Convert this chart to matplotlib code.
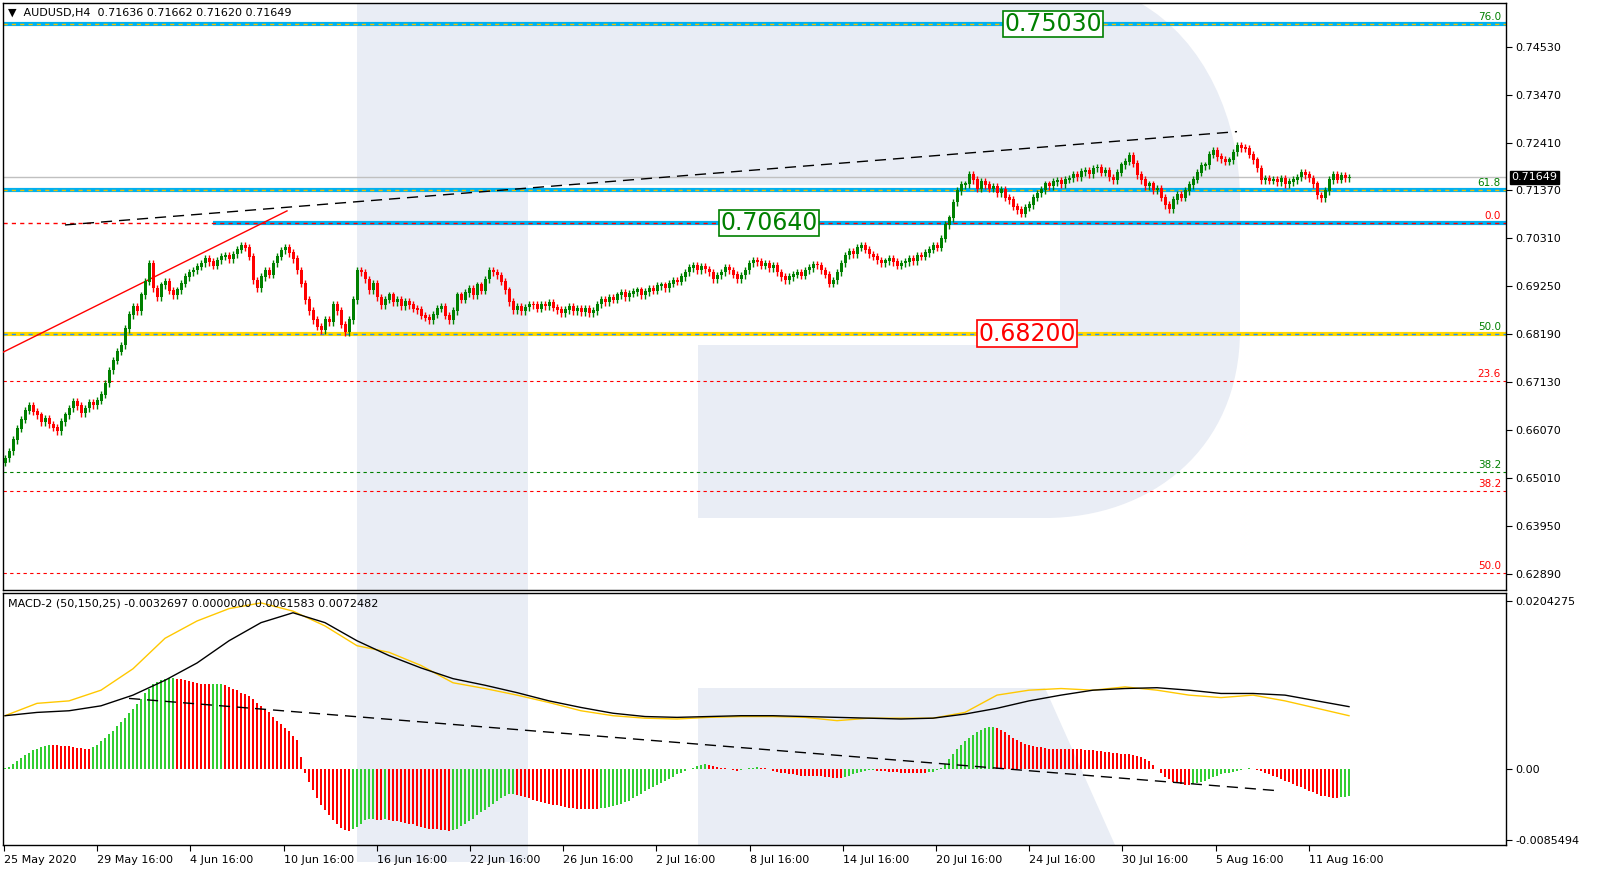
import matplotlib
matplotlib.use('Agg')
import matplotlib.pyplot as plt
import numpy as np
from matplotlib.patches import Polygon, PathPatch, Rectangle
from matplotlib.path import Path

plt.rcParams['font.family'] = ['DejaVu Sans']

# ---- data: H4 closes, AUDUSD 25 May - 13 Aug 2020 -------------------------
CLOSES = [
    0.6545, 0.6560, 0.6585, 0.6610, 0.6630, 0.6650, 0.6662, 0.6648, 0.6640, 0.6625, 0.6632, 0.6620,
    0.6612, 0.6605, 0.6625, 0.6640, 0.6655, 0.6670, 0.6660, 0.6645, 0.6655, 0.6668, 0.6662, 0.6672,
    0.6685, 0.6710, 0.6739, 0.6760, 0.6780, 0.6794, 0.6830, 0.6861, 0.6880, 0.6870, 0.6905, 0.6935,
    0.6975, 0.6920, 0.6900, 0.6927, 0.6935, 0.6915, 0.6905, 0.6916, 0.6930, 0.6945, 0.6955, 0.6960,
    0.6968, 0.6975, 0.6985, 0.6978, 0.6970, 0.6982, 0.6990, 0.6993, 0.6985, 0.6995, 0.7005, 0.7015,
    0.7010, 0.6990, 0.6938, 0.6920, 0.6945, 0.6960, 0.6950, 0.6975, 0.6990, 0.7004, 0.7010, 0.6998,
    0.6985, 0.6960, 0.6930, 0.6894, 0.6870, 0.6850, 0.6835, 0.6828, 0.6850, 0.6845, 0.6883, 0.6870,
    0.6840, 0.6823, 0.6850, 0.6894, 0.6960, 0.6955, 0.6940, 0.6916, 0.6930, 0.6900, 0.6883, 0.6895,
    0.6905, 0.6890, 0.6895, 0.6880, 0.6890, 0.6883, 0.6875, 0.6872, 0.6860, 0.6855, 0.6850, 0.6862,
    0.6875, 0.6880, 0.6860, 0.6850, 0.6870, 0.6905, 0.6895, 0.6910, 0.6920, 0.6905, 0.6927, 0.6915,
    0.6940, 0.6960, 0.6955, 0.6949, 0.6935, 0.6916, 0.6890, 0.6872, 0.6880, 0.6870, 0.6878, 0.6885,
    0.6883, 0.6875, 0.6885, 0.6880, 0.6888, 0.6877, 0.6872, 0.6865, 0.6872, 0.6880, 0.6870, 0.6875,
    0.6868, 0.6876, 0.6865, 0.6870, 0.6885, 0.6894, 0.6890, 0.6900, 0.6895, 0.6905, 0.6910, 0.6900,
    0.6908, 0.6912, 0.6916, 0.6905, 0.6912, 0.6920, 0.6915, 0.6925, 0.6927, 0.6920, 0.6930, 0.6938,
    0.6935, 0.6945, 0.6955, 0.6965, 0.6971, 0.6960, 0.6968, 0.6962, 0.6955, 0.6940, 0.6949, 0.6955,
    0.6965, 0.6960, 0.6950, 0.6940, 0.6949, 0.6960, 0.6975, 0.6982, 0.6978, 0.6970, 0.6975, 0.6965,
    0.6971, 0.6955, 0.6945, 0.6938, 0.6945, 0.6950, 0.6955, 0.6948, 0.6960, 0.6965, 0.6972, 0.6971,
    0.6960, 0.6950, 0.6930, 0.6938, 0.6955, 0.6975, 0.6993, 0.7000, 0.6995, 0.7010, 0.7015, 0.7005,
    0.6995, 0.6990, 0.6982, 0.6975, 0.6980, 0.6985, 0.6978, 0.6970, 0.6975, 0.6978, 0.6985, 0.6980,
    0.6993, 0.6990, 0.6998, 0.7005, 0.7015, 0.7010, 0.7030, 0.7060, 0.7075, 0.7110, 0.7135, 0.7148,
    0.7150, 0.7170, 0.7159, 0.7140, 0.7155, 0.7148, 0.7140, 0.7145, 0.7130, 0.7137, 0.7120, 0.7115,
    0.7100, 0.7093, 0.7085, 0.7098, 0.7104, 0.7120, 0.7130, 0.7137, 0.7150, 0.7145, 0.7155, 0.7158,
    0.7150, 0.7160, 0.7163, 0.7170, 0.7165, 0.7177, 0.7180, 0.7172, 0.7185, 0.7186, 0.7175, 0.7180,
    0.7165, 0.7159, 0.7175, 0.7192, 0.7200, 0.7214, 0.7195, 0.7170, 0.7159, 0.7145, 0.7150, 0.7137,
    0.7140, 0.7120, 0.7104, 0.7095, 0.7115, 0.7126, 0.7120, 0.7135, 0.7148, 0.7160, 0.7175, 0.7190,
    0.7192, 0.7215, 0.7225, 0.7210, 0.7205, 0.7200, 0.7203, 0.7220, 0.7235, 0.7230, 0.7228, 0.7215,
    0.7203, 0.7185, 0.7159, 0.7162, 0.7158, 0.7160, 0.7155, 0.7162, 0.7150, 0.7155, 0.7159, 0.7165,
    0.7175, 0.7170, 0.7163, 0.7150, 0.7125, 0.7119, 0.7135, 0.7159, 0.7170, 0.7160, 0.7168, 0.7163,
    0.7165,
]
FIRST_OPEN = 0.6535

# MACD histogram, units of 1e-4
HIST = [
    1, 3, 6, 10, 14, 17, 20, 23, 25, 27, 28, 30,
    29, 29, 28, 28, 28, 27, 26, 26, 25, 25, 27, 30,
    34, 38, 43, 47, 52, 57, 62, 68, 73, 79, 85, 92,
    98, 103, 106, 108, 110, 111, 111, 110, 109, 108, 107, 106,
    105, 104, 103, 103, 104, 104, 104, 102, 100, 98, 96, 93,
    91, 89, 85, 80, 77, 73, 69, 64, 59, 55, 50, 46,
    40, 35, 15, -5, -15, -25, -35, -43, -50, -56, -62, -67,
    -71, -74, -75, -73, -70, -66, -62, -61, -61, -62, -62, -61,
    -62, -63, -63, -64, -65, -66, -67, -69, -70, -71, -72, -73,
    -73, -74, -74, -75, -74, -72, -69, -66, -63, -60, -56, -52,
    -49, -46, -42, -39, -35, -32, -30, -30, -31, -32, -34, -35,
    -37, -38, -40, -41, -42, -43, -44, -45, -46, -47, -47, -48,
    -48, -48, -48, -48, -48, -47, -47, -46, -45, -44, -42, -40,
    -38, -35, -33, -30, -27, -24, -22, -19, -17, -14, -12, -9,
    -6, -4, -2, 0, 2, 4, 5, 6, 5, 4, 3, 2,
    1, 0, -1, -2, -1, 0, 1, 2, 3, 2, 1, 0,
    -2, -3, -4, -5, -6, -6, -7, -8, -8, -8, -8, -8,
    -8, -9, -10, -11, -11, -11, -10, -8, -6, -4, -3, -2,
    -1, -1, -2, -2, -2, -3, -3, -3, -4, -4, -4, -4,
    -4, -4, -4, -3, -3, -1, 2, 6, 12, 18, 24, 29,
    34, 38, 42, 45, 48, 50, 51, 51, 50, 48, 45, 41,
    38, 35, 33, 31, 29, 28, 27, 27, 26, 25, 25, 25,
    25, 25, 25, 25, 24, 24, 23, 23, 23, 22, 22, 21,
    21, 20, 20, 19, 19, 18, 17, 16, 15, 13, 10, 5,
    0, -5, -9, -12, -15, -17, -18, -19, -19, -18, -17, -16,
    -14, -12, -10, -8, -6, -5, -4, -3, -2, -1, 0, 1,
    0, -1, -2, -4, -6, -8, -10, -12, -14, -16, -18, -20,
    -22, -24, -26, -28, -30, -32, -33, -34, -35, -35, -34, -34,
    -33,
]
# MACD lines sampled every 8 bars (units of 1e-4)
LINE_STEP = 8
MACD_YELLOW = [65, 80, 83, 96, 122, 159, 180, 195, 202, 192, 174, 150, 142, 126, 105, 98, 90, 81,
               71, 65, 62, 61, 63, 64, 64, 63, 59, 62, 62, 62, 69, 90, 96, 98, 96, 100, 96, 90,
               87, 90, 83, 74, 65]
MACD_BLACK = [65, 69, 71, 77, 90, 108, 129, 156, 178, 190, 178, 156, 138, 123, 110, 102, 93, 83,
              75, 68, 64, 63, 64, 65, 65, 64, 63, 62, 61, 62, 67, 74, 83, 90, 96, 98, 99, 96,
              92, 92, 90, 83, 76]

DATE_LABELS = ['25 May 2020', '29 May 16:00', '4 Jun 16:00', '10 Jun 16:00', '16 Jun 16:00',
               '22 Jun 16:00', '26 Jun 16:00', '2 Jul 16:00', '8 Jul 16:00', '14 Jul 16:00',
               '20 Jul 16:00', '24 Jul 16:00', '30 Jul 16:00', '5 Aug 16:00', '11 Aug 16:00']
PRICE_TICKS = [0.74530, 0.73470, 0.72410, 0.71370, 0.70310, 0.69250, 0.68190,
               0.67130, 0.66070, 0.65010, 0.63950, 0.62890]
LAST_PRICE = 0.71649

# (price, label, label colour, thick colour, dashed colour, thick starts at bar)
LEVELS = [
    (0.75030, '76.0', 'green', '#00b0f0', '#f0c000', -1),
    (0.71370, '61.8', 'green', '#00b0f0', '#f0c000', -1),
    (0.70640, '0.0', 'red', '#00b0f0', 'red', 52),
    (0.68200, '50.0', 'green', '#ffd700', '#1e90ff', -1),
]
FIB_LINES = [(0.67150, '23.6', 'red'), (0.65140, '38.2', 'green'),
             (0.64720, '38.2', 'red'), (0.62910, '50.0', 'red')]
BOXES = [(262, 0.75030, '0.75030', 'green'), (191, 0.70640, '0.70640', 'green'),
         (255.5, 0.68200, '0.68200', 'red')]

W, H = 1612, 890
fig = plt.figure(figsize=(W / 100, H / 100), dpi=100)


def px_axes(x0, y0, x1, y1, **kw):
    return fig.add_axes([x0 / W, 1 - y1 / H, (x1 - x0) / W, (y1 - y0) / H], **kw)


# watermark background in pixel coordinates
bg = px_axes(0, 0, W, H, zorder=0)
bg.set_xlim(0, W); bg.set_ylim(H, 0); bg.axis('off')
WM = '#e9edf5'
bg.add_patch(Rectangle((357, 3), 171, 859, color=WM, lw=0))
verts = [(528, 3), (1140, 3), (1205, 40), (1240, 120), (1240, 200), (1240, 330),
         (1240, 450), (1150, 518), (1045, 518), (698, 518), (698, 345), (1060, 345),
         (1060, 185), (528, 185), (528, 3)]
codes = [Path.MOVETO, Path.LINETO, Path.CURVE4, Path.CURVE4, Path.CURVE4, Path.LINETO,
         Path.CURVE4, Path.CURVE4, Path.CURVE4, Path.LINETO, Path.LINETO, Path.LINETO,
         Path.LINETO, Path.LINETO, Path.CLOSEPOLY]
bg.add_patch(PathPatch(Path(verts, codes), color=WM, lw=0))
bg.add_patch(Polygon([(698, 688), (1045, 688), (1115, 845), (698, 845)], color=WM, lw=0))
bg.add_patch(Rectangle((1, 591), 1505, 2, color='white', lw=0, zorder=3))

ax = px_axes(3, 3, 1506, 590, zorder=1)
mx = px_axes(3, 593, 1506, 845, zorder=1, sharex=ax)
for a in (ax, mx):
    a.patch.set_alpha(0)
    for s in a.spines.values():
        s.set_linewidth(1.0)

closes = np.array(CLOSES)
opens = np.concatenate([[FIRST_OPEN], closes[:-1]])
idx = np.arange(len(closes))
up = closes >= opens
GREEN, RED = '#008000', '#ff0000'
cols = np.where(up, GREEN, RED)
hi = np.maximum(opens, closes) + 0.0008
lo = np.minimum(opens, closes) - 0.0008
ax.vlines(idx, lo, hi, colors=cols, lw=1, zorder=4)
ax.bar(idx, np.abs(closes - opens) + 0.00015, bottom=np.minimum(opens, closes),
       width=0.75, color=cols, lw=0, zorder=5)

ax.set_xlim(-0.5, 375.25)
ax.set_ylim(0.6254, 0.7550)

for price, lab, lc, thick, dash, start in LEVELS:
    xs = ax.get_xlim()[0] if start < 0 else start
    ax.plot([xs, 375.25], [price, price], color=thick, lw=3, zorder=2, solid_capstyle='butt')
    ax.axhline(price, color=dash, lw=1, ls=(0, (3, 3)), zorder=2.5)
    ax.text(374, price + 0.0004, lab, color=lc, fontsize=7.5, ha='right', va='bottom', zorder=6)
for price, lab, lc in FIB_LINES:
    ax.axhline(price, color=lc, lw=0.8, ls=(0, (3, 3)), zorder=2)
    ax.text(374, price + 0.0004, lab, color=lc, fontsize=7.5, ha='right', va='bottom', zorder=6)
ax.axhline(LAST_PRICE, color='#c0c0c0', lw=1, zorder=1.5)

# trend lines
ax.plot([15, 308], [0.7060, 0.7266], color='black', lw=1, ls=(0, (8, 5)), zorder=3)
ax.plot([-0.5, 70.5], [0.6779, 0.7091], color='red', lw=1, zorder=3)

for xb, price, txt, c in BOXES:
    ax.text(xb, price, txt, color=c, fontsize=17, ha='center', va='center', zorder=7,
            bbox=dict(boxstyle='square,pad=0.05', fc='white', ec=c, lw=1.2))

ax.yaxis.tick_right()
ax.set_yticks(PRICE_TICKS)
ax.set_yticklabels([f'{v:.5f}' for v in PRICE_TICKS], fontsize=8)
ax.tick_params(axis='y', direction='out', length=4, pad=3)
ax.tick_params(axis='x', which='both', bottom=False, labelbottom=False)
ax.text(1.0035, LAST_PRICE, f'{LAST_PRICE:.5f}', transform=ax.get_yaxis_transform(),
        color='white', fontsize=8, va='center', ha='left', zorder=8,
        bbox=dict(boxstyle='square,pad=0.15', fc='black', ec='black'), clip_on=False)
ax.text(0.003, 0.992, '\u25bc  AUDUSD,H4  0.71636 0.71662 0.71620 0.71649', transform=ax.transAxes,
        fontsize=8, va='top', ha='left', zorder=8)

# MACD panel: histogram green while rising, red while falling (ties keep colour)
hist = np.array(HIST, dtype=float)
hcols = []
rising = True
for i, v in enumerate(hist):
    if i > 0 and v != hist[i - 1]:
        rising = v > hist[i - 1]
    hcols.append('#32cd32' if rising else '#ff0000')
mx.bar(np.arange(len(hist)), hist, width=0.6, color=hcols, lw=0, zorder=3)
lx = np.arange(len(MACD_YELLOW)) * LINE_STEP
mx.plot(lx, MACD_YELLOW, color='#ffc800', lw=1, zorder=4)
mx.plot(lx, MACD_BLACK, color='black', lw=1, zorder=4)
mx.plot([31, 318], [86, -26], color='black', lw=1, ls=(0, (8, 5)), zorder=4)
mx.set_ylim(-92, 214)
MACD_TICKS = [204.275, 0, -85.494]
mx.yaxis.tick_right()
mx.set_yticks(MACD_TICKS)
mx.set_yticklabels(['0.0204275', '0.00', '-0.0085494'], fontsize=8)
mx.tick_params(axis='y', direction='out', length=4, pad=3)
mx.text(0.003, 0.98, 'MACD-2 (50,150,25) -0.0032697 0.0000000 0.0061583 0.0072482',
        transform=mx.transAxes, fontsize=8, va='top', ha='left', zorder=8)

tick_pos = [(4 + 93.2 * k - 5) / 4 for k in range(len(DATE_LABELS))]
mx.set_xticks(tick_pos)
mx.set_xticklabels(DATE_LABELS, fontsize=8, ha='left')
mx.tick_params(axis='x', direction='out', length=4, pad=3)
mx.set_xlim(-0.5, 375.25)

fig.savefig('out.png', dpi=100, facecolor='white')
